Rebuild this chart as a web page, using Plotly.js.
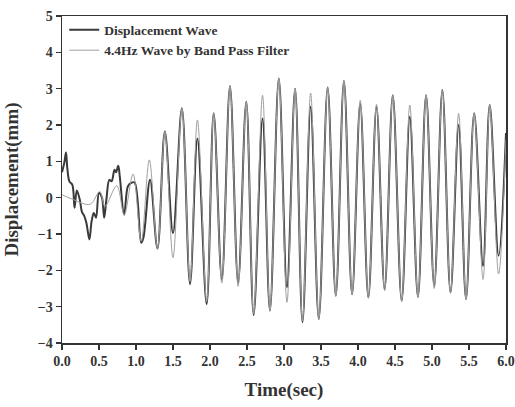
<!DOCTYPE html>
<html>
<head>
<meta charset="utf-8">
<script src="https://cdn.plot.ly/plotly-3.0.1.min.js"></script>
<style>html,body{margin:0;padding:0;background:#fff;}#chart{width:515px;height:407px;}</style>
</head>
<body>
<div id="chart"></div>
<script>
// Displacement wave
const dispTime = [0.00,0.03,0.054,0.07,0.10,0.14,0.17,0.20,0.24,0.27,0.30,0.33,0.37,0.40,0.43,0.46,0.50,0.54,0.57,0.60,0.64,0.67,0.71,0.73,0.76,0.78,0.84,0.89,0.93,0.98,1.07,1.10,1.19,1.29,1.39,1.50,1.62,1.73,1.83,1.955,2.05,2.16,2.27,2.38,2.49,2.59,2.71,2.81,2.93,3.04,3.15,3.25,3.36,3.47,3.59,3.70,3.81,3.92,4.03,4.14,4.25,4.36,4.47,4.59,4.70,4.81,4.92,5.03,5.14,5.25,5.36,5.46,5.57,5.69,5.78,5.90,6.00];
const dispValue = [0.70,0.95,1.24,0.85,0.45,0.35,-0.28,0.20,-0.05,-0.40,-0.50,-0.70,-1.15,-0.65,-0.42,-0.55,0.13,0.00,-0.55,-0.05,0.49,0.45,0.77,0.70,0.88,0.60,-0.47,0.31,0.40,0.42,-1.24,-1.10,0.49,-1.40,1.82,-0.97,2.46,-2.38,1.63,-2.93,2.32,-2.25,3.07,-2.34,2.64,-3.23,2.18,-3.11,3.28,-2.47,3.00,-3.43,2.50,-3.34,3.03,-2.70,3.21,-2.66,2.59,-2.75,2.50,-2.52,2.82,-2.84,2.23,-2.73,2.82,-2.43,2.96,-2.61,2.00,-2.79,2.32,-1.88,2.55,-1.60,1.78];

// 4.4Hz band pass filtered wave
const filtTime = [0.00,0.15,0.38,0.51,0.58,0.74,0.84,0.96,1.07,1.18,1.29,1.39,1.50,1.62,1.73,1.83,1.955,2.05,2.16,2.27,2.38,2.49,2.59,2.71,2.81,2.93,3.04,3.15,3.25,3.36,3.47,3.59,3.70,3.81,3.92,4.03,4.14,4.25,4.36,4.47,4.59,4.70,4.81,4.92,5.03,5.14,5.25,5.36,5.46,5.57,5.69,5.78,5.90,6.00];
const filtValue = [0.08,-0.05,-0.18,0.17,-0.24,0.33,-0.47,0.65,-1.20,1.04,-1.40,1.82,-1.65,2.46,-2.30,2.14,-2.85,2.32,-2.35,3.07,-2.44,2.64,-3.20,2.82,-3.11,3.28,-2.88,3.00,-3.40,2.88,-3.34,3.03,-2.70,3.21,-2.66,2.68,-2.75,2.57,-2.56,2.82,-2.84,2.55,-2.73,2.82,-2.50,2.96,-2.61,2.32,-2.79,2.32,-2.25,2.55,-2.10,1.60];

const seriesNames = ['Displacement Wave','4.4Hz Wave by Band Pass Filter'];
const xTicks = [0,0.5,1,1.5,2,2.5,3,3.5,4,4.5,5,5.5,6];
const xTickText = ['0.0','0.5','1.0','1.5','2.0','2.5','3.0','3.5','4.0','4.5','5.0','5.5','6.0'];
const yTicks = [-4,-3,-2,-1,0,1,2,3,4,5];

const serif = 'Liberation Serif, Times New Roman, serif';

const traces = [
  {x: dispTime, y: dispValue, name: seriesNames[0], mode: 'lines',
   line: {color: '#3a3a3a', width: 2, shape: 'spline', smoothing: 1}},
  {x: filtTime, y: filtValue, name: seriesNames[1], mode: 'lines',
   line: {color: '#a0a0a0', width: 1, shape: 'spline', smoothing: 1}}
];

const layout = {
  width: 515, height: 407,
  margin: {l: 62, r: 9, t: 16, b: 64},
  paper_bgcolor: '#fff', plot_bgcolor: '#fff',
  showlegend: true,
  legend: {x: 0.005, y: 1.005, xanchor: 'left', yanchor: 'top', bgcolor: 'rgba(0,0,0,0)',
           font: {family: serif, size: 13.5, color: '#333', weight: 'bold'},
           tracegroupgap: 0, itemwidth: 30},
  xaxis: {range: [0, 6], tickvals: xTicks, ticktext: xTickText, ticks: 'outside', ticklen: 5,
          tickwidth: 1.5, tickcolor: '#333', showline: true, linecolor: '#333', linewidth: 1.5,
          mirror: true, showgrid: false, zeroline: false,
          tickfont: {family: serif, size: 14, color: '#333', weight: 'bold'},
          title: {text: 'Time(sec)', font: {family: serif, size: 19, color: '#333', weight: 'bold'}, standoff: 14}},
  yaxis: {range: [-4, 5], tickvals: yTicks, ticks: 'outside', ticklen: 5,
          tickwidth: 1.5, tickcolor: '#333', showline: true, linecolor: '#333', linewidth: 1.5,
          mirror: true, showgrid: false, zeroline: false,
          tickfont: {family: serif, size: 14, color: '#333', weight: 'bold'},
          title: {text: 'Displacement(mm)', font: {family: serif, size: 19, color: '#333', weight: 'bold'}, standoff: 14}}
};

Plotly.newPlot('chart', traces, layout, {displayModeBar: false, staticPlot: true});
</script>
</body>
</html>
